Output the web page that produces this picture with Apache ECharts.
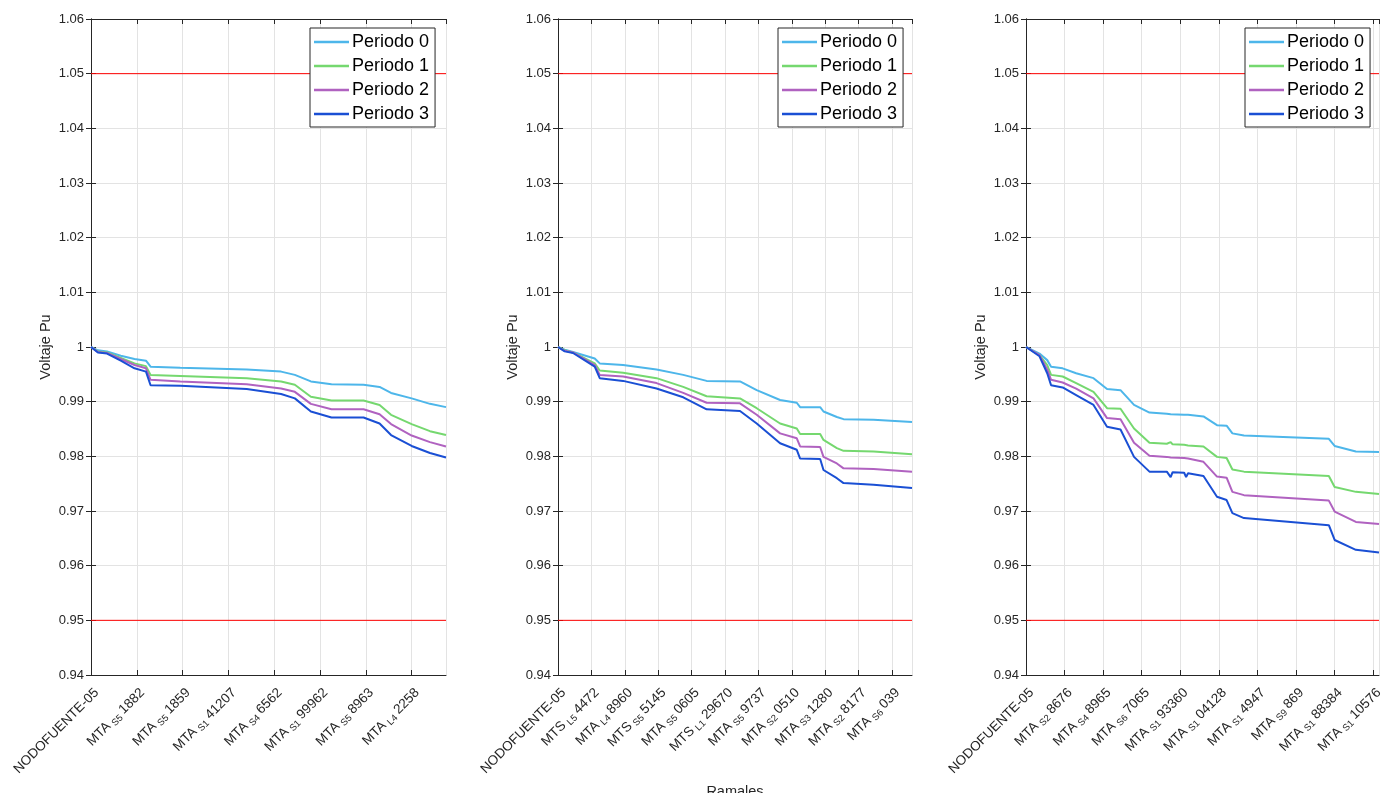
<!DOCTYPE html>
<html>
<head>
<meta charset="utf-8">
<script src="https://cdn.jsdelivr.net/npm/echarts@6/dist/echarts.min.js"></script>
<style>
html, body { margin: 0; padding: 0; background: #fff; }
#chart { width: 1381px; height: 793px; }
</style>
</head>
<body>
<div id="chart"></div>
<script>
var periodNames = ['Periodo 0', 'Periodo 1', 'Periodo 2', 'Periodo 3'],
    periodColors = ['#4DB6EA', '#75D86F', '#B062C0', '#1A4FD4'],
    limits = [1.05, 0.95],
    tickStep = 20;

// fase A
var ticksA = ['NODOFUENTE-05', 'MTA_S5 1882', 'MTA_S5 1859', 'MTA_S1 41207', 'MTA_S4 6562', 'MTA_S1 99962', 'MTA_S5 8963', 'MTA_L4 2258'],
    xA = [0, 3, 7, 13, 19, 24, 26, 39, 68, 83, 89, 96, 105, 119, 126, 131, 140, 148, 155],
    a0 = [1.000, 0.9994, 0.9992, 0.9984, 0.9978, 0.9975, 0.9964, 0.9962, 0.9959, 0.9955, 0.9949, 0.9937, 0.9932, 0.9931, 0.9927, 0.9916, 0.9906, 0.9896, 0.9890],
    a1 = [1.000, 0.9992, 0.9990, 0.9980, 0.9970, 0.9965, 0.9949, 0.9947, 0.9943, 0.9937, 0.9931, 0.9909, 0.9902, 0.9902, 0.9894, 0.9876, 0.9859, 0.9846, 0.9839],
    a2 = [1.000, 0.9991, 0.9989, 0.9978, 0.9967, 0.9961, 0.9940, 0.9937, 0.9932, 0.9924, 0.9918, 0.9896, 0.9886, 0.9886, 0.9877, 0.9859, 0.9838, 0.9826, 0.9818],
    a3 = [1.000, 0.9990, 0.9988, 0.9975, 0.9961, 0.9955, 0.9930, 0.9929, 0.9923, 0.9914, 0.9906, 0.9882, 0.9871, 0.9871, 0.9860, 0.9839, 0.9819, 0.9806, 0.9798];

// fase B
var ticksB = ['NODOFUENTE-05', 'MTS_L5 4472', 'MTA_L4 8960', 'MTS_S5 5145', 'MTA_S5 0605', 'MTS_L1 29670', 'MTA_S5 9737', 'MTA_S2 0510', 'MTA_S3 1280', 'MTA_S2 8177', 'MTA_S6 039'],
    xB = [0, 4, 9, 22, 25, 39, 59, 75, 89, 109, 119, 133, 143, 145, 157, 159, 167, 171, 189, 212],
    b0 = [1.000, 0.9995, 0.9991, 0.9979, 0.9970, 0.9967, 0.9959, 0.9949, 0.9938, 0.9937, 0.9921, 0.9903, 0.9898, 0.9890, 0.9890, 0.9882, 0.9872, 0.9868, 0.9867, 0.9863],
    b1 = [1.000, 0.9994, 0.9990, 0.9970, 0.9957, 0.9953, 0.9943, 0.9927, 0.9910, 0.9906, 0.9888, 0.9860, 0.9851, 0.9841, 0.9841, 0.9830, 0.9815, 0.9810, 0.9809, 0.9804],
    b2 = [1.000, 0.9993, 0.9990, 0.9967, 0.9949, 0.9946, 0.9934, 0.9916, 0.9898, 0.9897, 0.9876, 0.9842, 0.9833, 0.9818, 0.9817, 0.9799, 0.9787, 0.9778, 0.9777, 0.9772],
    b3 = [1.000, 0.9992, 0.9989, 0.9964, 0.9943, 0.9938, 0.9924, 0.9908, 0.9886, 0.9883, 0.9860, 0.9824, 0.9812, 0.9796, 0.9795, 0.9775, 0.9760, 0.9751, 0.9748, 0.9742];

// fase C
var ticksC = ['NODOFUENTE-05', 'MTA_S2 8676', 'MTA_S4 8965', 'MTA_S6 7065', 'MTA_S1 93360', 'MTA_S1 04128', 'MTA_S1 4947', 'MTA_S9 869', 'MTA_S1 88384', 'MTA_S1 10576'],
    xC = [0, 7, 11, 13, 19, 26, 35, 42, 49, 56, 64, 73, 74, 75, 76, 82, 83, 84, 92, 99, 104, 107, 113, 157, 160, 171, 183],
    c0 = [1.000, 0.9988, 0.9976, 0.9964, 0.9961, 0.9952, 0.9943, 0.9923, 0.9921, 0.9894, 0.9880, 0.9878, 0.9878, 0.9877, 0.9877, 0.9876, 0.9876, 0.9876, 0.9873, 0.9857, 0.9856, 0.9842, 0.9838, 0.9832, 0.9819, 0.9809, 0.9808],
    c1 = [1.000, 0.9985, 0.9967, 0.9949, 0.9946, 0.9934, 0.9918, 0.9888, 0.9887, 0.9851, 0.9825, 0.9823, 0.9823, 0.9826, 0.9822, 0.9821, 0.9821, 0.9820, 0.9818, 0.9799, 0.9797, 0.9776, 0.9772, 0.9764, 0.9744, 0.9735, 0.9731],
    c2 = [1.000, 0.9985, 0.9959, 0.9940, 0.9935, 0.9924, 0.9906, 0.9870, 0.9868, 0.9825, 0.9801, 0.9799, 0.9799, 0.9798, 0.9798, 0.9797, 0.9797, 0.9796, 0.9790, 0.9763, 0.9761, 0.9735, 0.9729, 0.9719, 0.9699, 0.9680, 0.9676],
    c3 = [1.000, 0.9983, 0.9952, 0.9930, 0.9926, 0.9912, 0.9894, 0.9854, 0.9849, 0.9799, 0.9772, 0.9772, 0.9772, 0.9762, 0.9771, 0.9770, 0.9762, 0.9769, 0.9764, 0.9726, 0.9720, 0.9696, 0.9687, 0.9674, 0.9647, 0.9629, 0.9624];

var panels = [
    { ticks: ticksA, x: xA, ys: [a0, a1, a2, a3], left: 91, right: 935, legendLeft: 310 },
    { ticks: ticksB, x: xB, ys: [b0, b1, b2, b3], left: 558, right: 469, legendLeft: 778 },
    { ticks: ticksC, x: xC, ys: [c0, c1, c2, c3], left: 1026, right: 2, legendLeft: 1245 }
];

var axisColor = '#262626',
    gridColor = '#e3e3e3',
    font = 'Liberation Sans, Arial, Helvetica, sans-serif';

// 'MTA_S5 1882' -> MTA con subindice S5
var tickLabel = function (text) {
    if (!text) return '';
    var p = text.indexOf('_');
    if (p < 0) return '{n|' + text + '}';
    var rest = text.substring(p + 1), sp = rest.indexOf(' ');
    return '{n|' + text.substring(0, p) + '}{s|' + rest.substring(0, sp) + '}{n|' + rest.substring(sp + 1) + '}';
};

var grid = [], xAxis = [], yAxis = [], legend = [], series = [];

panels.forEach(function (panel, i) {
    grid.push({ left: panel.left, right: panel.right, top: 19, bottom: 118, outerBoundsMode: 'none' });

    var maxX = panel.x[panel.x.length - 1];
    xAxis.push({
        type: 'value', gridIndex: i, min: 0, max: maxX, interval: tickStep,
        axisLine: { show: true, onZero: false, lineStyle: { color: axisColor } },
        axisTick: { show: true, inside: true, length: 5, lineStyle: { color: axisColor } },
        splitLine: { show: true, lineStyle: { color: gridColor } },
        axisLabel: {
            rotate: 45, margin: 10, verticalAlign: 'top', showMaxLabel: false, color: axisColor,
            formatter: function (v) {
                if (v % tickStep !== 0) return '';
                return tickLabel(panel.ticks[v / tickStep]);
            },
            rich: {
                n: { fontSize: 13.5, lineHeight: 16, fontFamily: font, color: axisColor },
                s: { fontSize: 9.5, lineHeight: 10, padding: [7, 3, 0, 3], fontFamily: font, color: axisColor }
            }
        },
        name: i === 1 ? 'Ramales' : '',
        nameLocation: 'middle', nameGap: 109,
        nameTextStyle: { fontSize: 14.5, fontFamily: font, color: axisColor }
    });
    xAxis.push({
        type: 'value', gridIndex: i, position: 'top', min: 0, max: maxX, interval: tickStep,
        axisLine: { show: true, onZero: false, lineStyle: { color: axisColor } },
        axisTick: { show: true, inside: true, length: 5, lineStyle: { color: axisColor } },
        axisLabel: { show: false }, splitLine: { show: false }
    });

    yAxis.push({
        type: 'value', gridIndex: i, min: 0.94, max: 1.06, interval: 0.01,
        axisLine: { show: true, lineStyle: { color: axisColor } },
        axisTick: { show: true, inside: true, length: 5, lineStyle: { color: axisColor } },
        splitLine: { show: true, lineStyle: { color: gridColor } },
        axisLabel: {
            margin: 7, fontSize: 13, fontFamily: font, color: axisColor,
            formatter: function (v) { return parseFloat(v.toFixed(2)).toString(); }
        },
        name: 'Voltaje Pu', nameLocation: 'middle', nameGap: 38,
        nameTextStyle: { fontSize: 14.5, fontFamily: font, color: axisColor }
    });
    yAxis.push({
        type: 'value', gridIndex: i, position: 'right', min: 0.94, max: 1.06, interval: 0.01,
        axisLine: { show: true, lineStyle: { color: axisColor } },
        axisTick: { show: true, inside: true, length: 5, lineStyle: { color: axisColor } },
        axisLabel: { show: false }, splitLine: { show: false }
    });

    legend.push({
        data: periodNames, orient: 'vertical', left: panel.legendLeft, top: 28,
        icon: 'rect', itemWidth: 35, itemHeight: 2.5, itemGap: 6,
        padding: [5, 6, 4, 4],
        backgroundColor: '#fff', borderColor: axisColor, borderWidth: 1,
        textStyle: { fontSize: 18, fontFamily: font, color: '#000', padding: [0, 0, 0, -2] }
    });

    // limites de voltaje
    limits.forEach(function (v) {
        series.push({
            type: 'line', xAxisIndex: i * 2, yAxisIndex: i * 2, silent: true,
            showSymbol: false, symbol: 'none', animation: false, z: 1,
            lineStyle: { color: '#ff0000', width: 1 },
            data: [[0, v], [maxX, v]]
        });
    });

    panel.ys.forEach(function (ys, k) {
        series.push({
            name: periodNames[k], type: 'line',
            xAxisIndex: i * 2, yAxisIndex: i * 2,
            showSymbol: false, symbol: 'none', animation: false,
            color: periodColors[k],
            lineStyle: { width: 2, color: periodColors[k] },
            data: panel.x.map(function (x, j) { return [x, ys[j]]; })
        });
    });
});

var chart = echarts.init(document.getElementById('chart'));
chart.setOption({
    backgroundColor: '#fff',
    animation: false,
    grid: grid,
    xAxis: xAxis,
    yAxis: yAxis,
    legend: legend,
    series: series
});
</script>
</body>
</html>
